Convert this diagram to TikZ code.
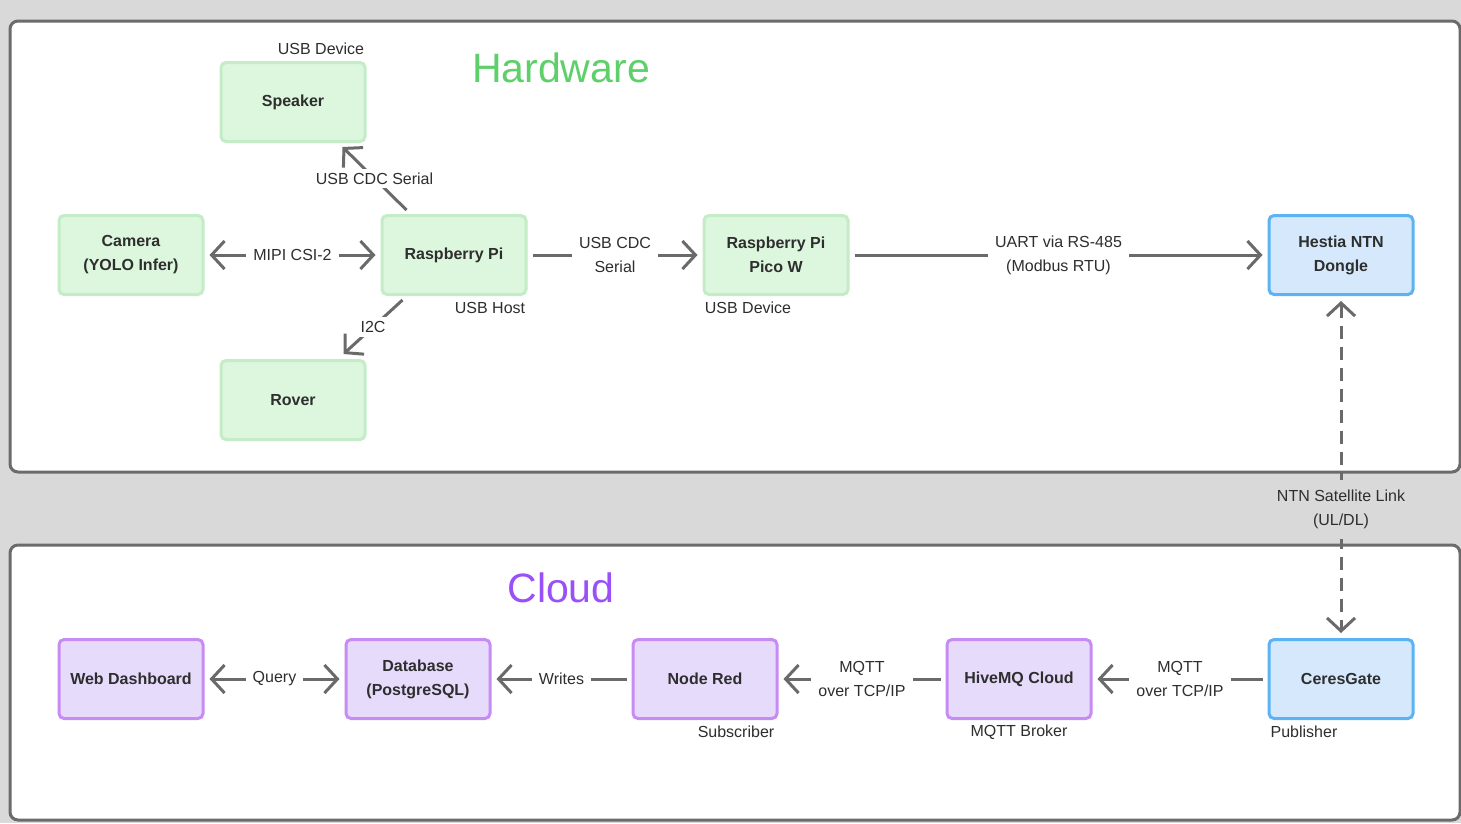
\documentclass[tikz,border=0pt]{standalone}
\usepackage{fontspec}
\setmainfont{Liberation Sans}
\usetikzlibrary{arrows.meta}
\definecolor{bg}{HTML}{D9D9D9}
\definecolor{frame}{HTML}{6B6B6B}
\definecolor{gfill}{HTML}{DDF7DE}
\definecolor{gline}{HTML}{C3ECC7}
\definecolor{bfill}{HTML}{D6E9FC}
\definecolor{bline}{HTML}{5BB3F4}
\definecolor{pfill}{HTML}{E7DBFC}
\definecolor{pline}{HTML}{C78CF3}
\definecolor{txt}{HTML}{2E2E2E}
\definecolor{arr}{HTML}{6A6A6A}
\definecolor{hwgreen}{HTML}{5ED06A}
\definecolor{cloudpurple}{HTML}{9B4FF6}
\tikzset{
  box/.style={draw, rounded corners=5pt, line width=3pt, minimum width=144pt,
    minimum height=79pt, align=center, font=\bfseries\fontsize{16}{24}\selectfont, text=txt},
  hw/.style={box, fill=gfill, draw=gline},
  sat/.style={box, fill=bfill, draw=bline},
  cl/.style={box, fill=pfill, draw=pline},
  tip/.style={Straight Barb[length=13pt, width=28pt]},
  conn/.style={draw=arr, line width=3pt, -{Straight Barb[length=13pt, width=28pt]},
    shorten >=5pt, shorten <=5pt},
  both/.style={conn, {Straight Barb[length=13pt, width=28pt]}-{Straight Barb[length=13pt, width=28pt]}},
  lbl/.style={fill=white, font=\fontsize{16}{24}\selectfont, text=txt, inner xsep=7pt, inner ysep=3pt, align=center},
  note/.style={font=\fontsize{16}{19}\selectfont, text=txt},
  panel/.style={draw=frame, line width=3pt, fill=white, rounded corners=8pt},
  title/.style={font=\fontsize{41}{41}\selectfont}
}
\begin{document}
\begin{tikzpicture}[x=1pt, y=-1pt]
\useasboundingbox (0,0) rectangle (1461,823);
\clip (0,0) rectangle (1461,823);
\fill[bg] (0,0) rectangle (1461,823);
\draw[panel] (10,21) rectangle (1460,472);
\draw[panel] (10,545) rectangle (1460,820);

\node[title, text=hwgreen] (hwtitle) at (561,68) {Hardware};
\node[title, text=cloudpurple] (cltitle) at (561,588) {Cloud};

% hardware nodes
\node[hw] (spk) at (293,102) {Speaker};
\node[hw] (cam) at (131,255) {Camera\\(YOLO Infer)};
\node[hw] (rpi) at (454,255) {Raspberry Pi};
\node[hw] (pico) at (776,255) {Raspberry Pi\\Pico W};
\node[sat] (hestia) at (1341,255) {Hestia NTN\\Dongle};
\node[hw] (rover) at (293,400) {Rover};

% cloud nodes
\node[cl] (web) at (131,679) {Web Dashboard};
\node[cl] (db) at (418,679) {Database\\(PostgreSQL)};
\node[cl] (nred) at (705,679) {Node Red};
\node[cl] (hive) at (1019,679) {HiveMQ Cloud};
\node[sat] (ceres) at (1341,679) {CeresGate};

% notes
\node[note] (n1) at (321,49) {USB Device};
\node[note] (n2) at (490,308) {USB Host};
\node[note] (n3) at (748,308) {USB Device};
\node[note] (n4) at (736,732) {Subscriber};
\node[note] (n5) at (1019,732) {MQTT Broker};
\node[note] (n6) at (1304,732) {Publisher};

% hardware connectors
\draw[both] (cam) -- node[lbl] {MIPI CSI-2} (rpi);
\draw[conn, shorten <=0pt, shorten >=0pt] ([shift={(26,-4)}]rpi.north west) -- node[lbl, inner sep=4pt] {USB CDC Serial} ([shift={(-24,4)}]spk.south east);
\draw[conn, shorten <=0pt, shorten >=0pt] ([shift={(22,4)}]rpi.south west) -- node[lbl, inner sep=4pt] {I2C} ([shift={(-23,-5)}]rover.north east);
\draw[conn] (rpi) -- node[lbl] {USB CDC\\Serial} (pico);
\draw[conn] (pico) -- node[lbl] {UART via RS-485\\(Modbus RTU)} (hestia);
\draw[both, dash pattern=on 13pt off 8pt] (hestia.south) -- node[pos=0.624, lbl, fill=bg, inner ysep=10pt, inner xsep=4pt] {NTN Satellite Link\\(UL/DL)} (ceres.north);

% cloud connectors
\draw[conn] (ceres) -- node[lbl] {MQTT\\over TCP/IP} (hive);
\draw[conn] (hive) -- node[lbl] {MQTT\\over TCP/IP} (nred);
\draw[conn] (nred) -- node[lbl] {Writes} (db);
\draw[both] (web) -- node[lbl] {Query} (db);
\end{tikzpicture}
\end{document}
